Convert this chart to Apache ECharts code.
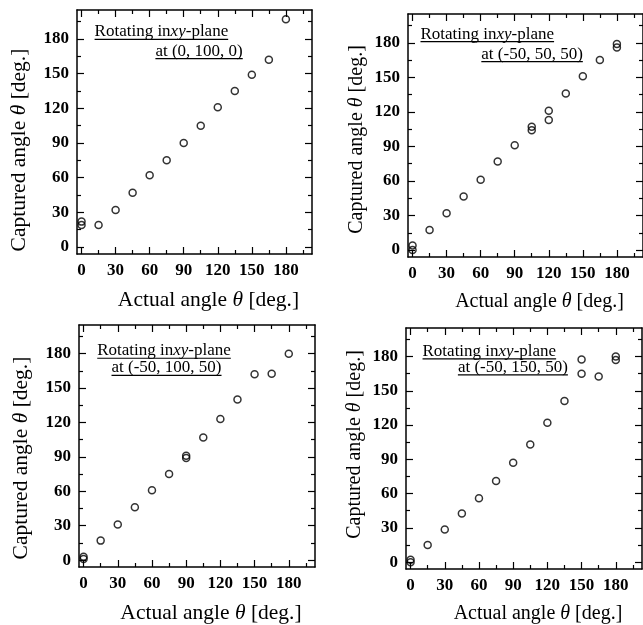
<!DOCTYPE html>
<html><head><meta charset="utf-8">
<script src="https://cdn.jsdelivr.net/npm/echarts@6/dist/echarts.min.js"></script>
<style>html,body{margin:0;padding:0;background:#fff}#c{width:643px;height:625px}</style>
</head><body><div id="c"></div>
<script>
// ---- data ----
const majorTicks = [0, 30, 60, 90, 120, 150, 180];
const minorTicks = [15, 45, 75, 105, 135, 165, 195];
const xTitle = 'Actual angle {i|θ} [deg.]';
const yTitle = 'Captured angle {i|θ} [deg.]';

const panel1Points = [[0,22],[0,19],[15,19],[30,32],[45,47],[60,62],[75,75],[90,90],[105,105],[120,121],[135,135],[150,149],[165,162],[180,197]];
const panel2Points = [[0,4],[0,0],[15,17.5],[30,32],[45,46.5],[60,61],[75,77],[90,91],[105,107],[105,104],[120,121],[120,113],[135,136],[150,151],[165,165],[180,179],[180,176]];
const panel3Points = [[0,3],[0,1],[15,17],[30,31],[45,46],[60,61],[75,75],[90,91],[90,89],[105,107],[120,123],[135,140],[150,162],[165,162.5],[180,180]];
const panel4Points = [[0,2],[0,0],[15,15],[30,28.5],[45,42.5],[60,56],[75,71],[90,87],[105,103],[120,122],[135,141],[150,177.5],[150,165],[165,162.5],[180,180],[180,177]];

const panelLine1 = ['Rotating in{i|xy}-plane','Rotating in{i|xy}-plane','Rotating in{i|xy}-plane','Rotating in{i|xy}-plane'];
const panelLine2 = ['at (0, 100, 0)','at (-50, 50, 50)','at (-50, 100, 50)','at (-50, 150, 50)'];

// ---- layout ----
const panels = [
  {grid:{left:77, top:10, width:235, height:244}, pts:panel1Points, l1:[11.5,179.6], l2:[142,163], tSize:21.5, yPad:[0,36,0,0], yGap:47},
  {grid:{left:408, top:14, width:235, height:243}, pts:panel2Points, l1:[7,181], l2:[150,163.6], tSize:20, yPad:[0,8,0,0], yGap:41},
  {grid:{left:79, top:325, width:236, height:242}, pts:panel3Points, l1:[12,176], l2:[121,161], tSize:21.5, yPad:[0,24,0,0], yGap:47},
  {grid:{left:406, top:328, width:236, height:242}, pts:panel4Points, l1:[10.5,178], l2:[138,164], tSize:20, yPad:[0,0,0,8], yGap:41}
];
const X_MIN = -4, X_MAX = 203, Y_MIN = -6, Y_MAX = 205;
const FONT = '"Liberation Serif", "Times New Roman", serif';
const black = '#000';

function axisBase(g, extra) {
  return Object.assign({
    gridIndex: g, type: 'value', splitLine: {show: false},
    axisLine: {show: false, onZero: false, lineStyle: {color: black, width: 1.5}},
    axisLabel: {show: false}
  }, extra);
}
function tick(values, len) {
  return {show: true, inside: true, length: len, customValues: values, lineStyle: {color: black, width: 1.2}};
}
const labelStyle = {show: true, customValues: majorTicks, color: black, fontFamily: FONT, fontSize: 17, fontWeight: 'bold'};
function titleStyle(size, pad) {
  return {color: black, fontFamily: FONT, fontSize: size, padding: pad,
    rich: {i: {fontStyle: 'italic', fontFamily: FONT, fontSize: size, color: black}}};
}

const grids = [], xAxes = [], yAxes = [], series = [];
panels.forEach((p, g) => {
  grids.push(Object.assign({containLabel: false}, p.grid));
  xAxes.push(axisBase(g, {position: 'bottom', min: X_MIN, max: X_MAX,
    axisLine: {show: true, onZero: false, lineStyle: {color: black, width: 1.5}},
    axisTick: tick(majorTicks, 7), axisLabel: Object.assign({margin: 8}, labelStyle),
    name: xTitle, nameLocation: 'middle', nameGap: 35, nameTextStyle: titleStyle(p.tSize, [0, 0, 0, 28])}));
  xAxes.push(axisBase(g, {position: 'bottom', min: X_MIN, max: X_MAX, axisTick: tick(minorTicks, 4)}));
  xAxes.push(axisBase(g, {position: 'top', min: X_MIN, max: X_MAX,
    axisLine: {show: true, onZero: false, lineStyle: {color: black, width: 1.5}}, axisTick: tick(majorTicks, 7)}));
  xAxes.push(axisBase(g, {position: 'top', min: X_MIN, max: X_MAX, axisTick: tick(minorTicks, 4)}));

  yAxes.push(axisBase(g, {position: 'left', min: Y_MIN, max: Y_MAX,
    axisLine: {show: true, onZero: false, lineStyle: {color: black, width: 1.5}},
    axisTick: tick(majorTicks, 7), axisLabel: Object.assign({margin: 8}, labelStyle),
    name: yTitle, nameLocation: 'middle', nameGap: p.yGap, nameTextStyle: titleStyle(p.tSize, p.yPad)}));
  yAxes.push(axisBase(g, {position: 'left', min: Y_MIN, max: Y_MAX, axisTick: tick(minorTicks, 4)}));
  yAxes.push(axisBase(g, {position: 'right', min: Y_MIN, max: Y_MAX,
    axisLine: {show: true, onZero: false, lineStyle: {color: black, width: 1.5}}, axisTick: tick(majorTicks, 7)}));
  yAxes.push(axisBase(g, {position: 'right', min: Y_MIN, max: Y_MAX, axisTick: tick(minorTicks, 4)}));

  series.push({type: 'scatter', xAxisIndex: g * 4, yAxisIndex: g * 4, data: p.pts,
    symbol: 'circle', symbolSize: 7,
    itemStyle: {color: 'rgba(0,0,0,0)', borderColor: black, borderWidth: 1.5},
    emphasis: {disabled: true}, animation: false});
});

const chart = echarts.init(document.getElementById('c'), null, {renderer: 'canvas'});
chart.setOption({animation: false, backgroundColor: '#fff', grid: grids, xAxis: xAxes, yAxis: yAxes, series: series});

// annotations (underlined text), anchored in data coordinates
const ANN_SIZE = 17;
const cv = document.createElement('canvas').getContext('2d');
function w(text, italic) { cv.font = (italic ? 'italic ' : '') + ANN_SIZE + 'px ' + FONT; return cv.measureText(text).width; }
function richWidth(t) {
  let total = 0; const re = /\{i\|([^}]*)\}/g; let last = 0, m;
  while ((m = re.exec(t))) { total += w(t.slice(last, m.index)) + w(m[1], true); last = re.lastIndex; }
  return total + w(t.slice(last));
}
const rich = {i: {fontStyle: 'italic', fontFamily: FONT, fontSize: ANN_SIZE, fill: black, color: black}};
const graphics = [];
panels.forEach((p, g) => {
  const a = chart.convertToPixel({xAxisIndex: g * 4, yAxisIndex: g * 4}, p.l1);
  const b = chart.convertToPixel({xAxisIndex: g * 4, yAxisIndex: g * 4}, p.l2);
  const w1 = richWidth(panelLine1[g]);
  const w2 = richWidth(panelLine2[g]);
  graphics.push({type: 'text', silent: true, style: {text: panelLine1[g], x: a[0], y: a[1] + 1, fill: black,
    font: ANN_SIZE + 'px ' + FONT, textAlign: 'left', textVerticalAlign: 'bottom', rich: rich}});
  graphics.push({type: 'line', silent: true, shape: {x1: a[0], y1: a[1], x2: a[0] + w1, y2: a[1]}, style: {stroke: black, lineWidth: 1.2}});
  graphics.push({type: 'text', silent: true, style: {text: panelLine2[g], x: b[0], y: b[1] + 1, fill: black,
    font: ANN_SIZE + 'px ' + FONT, textAlign: 'right', textVerticalAlign: 'bottom'}});
  graphics.push({type: 'line', silent: true, shape: {x1: b[0] - w2, y1: b[1], x2: b[0], y2: b[1]}, style: {stroke: black, lineWidth: 1.2}});
});
chart.setOption({graphic: graphics});
</script></body></html>
